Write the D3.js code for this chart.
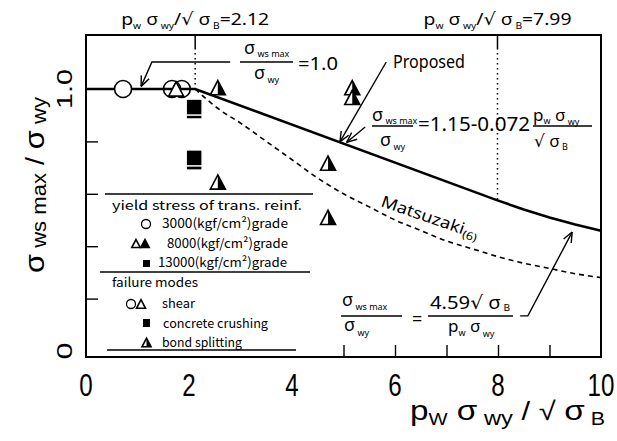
<!DOCTYPE html>
<html>
<head>
<meta charset="utf-8">
<script src="https://cdn.jsdelivr.net/npm/d3@7"></script>
<style>body{margin:0;background:#fff}</style>
</head>
<body>
<div id="chart"></div>
<script>
// values
var proposedX = [0, 2.12, 7.99, 8.5, 9, 9.5, 10];
var proposedY = [1.0, 1.0, 0.575, 0.54, 0.51, 0.483, 0.459];
var matsuX = [2.12, 2.6, 3, 3.5, 4, 4.5, 5, 5.5, 6, 6.5, 7, 7.5, 8, 8.5, 9, 9.5, 10];
var matsuY = [1.0, 0.92, 0.87, 0.80, 0.73, 0.66, 0.60, 0.55, 0.50, 0.46, 0.42, 0.39, 0.36, 0.335, 0.315, 0.295, 0.28];
var circleX = [0.72, 1.67, 1.86];
var circleY = [1.0, 1.0, 1.0];
var openTriX = [1.75];
var openTriY = [1.0];
var squareX = [2.1, 2.1, 2.1, 2.1];
var squareY = [0.916, 0.931, 0.721, 0.737];
var halfTriX = [2.56, 2.56, 4.70, 4.70, 5.17, 5.17];
var halfTriY = [1.005, 0.645, 0.717, 0.51, 1.005, 0.968];
var markX = [2.12, 7.99];
var markY = [1.0, 0.575];
var markLabel = ["2.12", "7.99"];
var xTickLabels = [0, 2, 4, 6, 8, 10];
var xMinorTicks = [1, 2, 3, 4, 5, 6, 7, 8, 9];
var yTicks = [0.2, 0.4, 0.6, 0.8];
var yTickLabels = [0, 1.0];

var SANS = "'Liberation Sans', Arial, sans-serif";
var ANNO = "'Noto Sans', 'DejaVu Sans', sans-serif";
var LEG = "'Noto Sans CJK JP', 'Noto Sans', sans-serif";

var svg = d3.select("#chart").append("svg")
    .attr("width", 617)
    .attr("height", 441);

var x = d3.scaleLinear().domain([0, 10]).range([86, 601]);
var y = d3.scaleLinear().domain([0, 1]).range([351, 89]);
var plotTop = 35, plotBottom = 357;

// text with sub parts: [text, size, shift, style]
function rich(parent, px, py, parts, opt) {
    opt = opt || {};
    var t = parent.append("text")
        .attr("x", px).attr("y", py)
        .attr("font-family", opt.font || ANNO)
        .attr("text-anchor", opt.anchor || "start");
    if (opt.transform) t.attr("transform", opt.transform);
    var prev = 0;
    parts.forEach(function (p) {
        var shift = p[2] || 0;
        var s = t.append("tspan").attr("font-size", p[1]).attr("dy", shift - prev).text(p[0]);
        if (p[3]) s.attr("font-style", p[3]);
        prev = shift;
    });
    if (opt.length) t.attr("textLength", opt.length).attr("lengthAdjust", "spacingAndGlyphs");
    return t;
}

function triangle(g, cx, cy, s, mode) {
    var h = s * 0.95;
    g.append("path")
        .attr("d", "M" + cx + "," + (cy - h) + "L" + (cx + s) + "," + (cy + h) + "L" + (cx - s) + "," + (cy + h) + "Z")
        .attr("fill", mode == "filled" ? "#000" : "#fff")
        .attr("stroke", "#000").attr("stroke-width", 1.6).attr("stroke-linejoin", "miter");
    if (mode == "half") {
        g.append("path")
            .attr("d", "M" + cx + "," + (cy - h) + "L" + (cx + s) + "," + (cy + h) + "L" + cx + "," + (cy + h) + "Z")
            .attr("fill", "#000");
    }
}

function arrow(pts) {
    var p = pts.map(function (d) { return [x(d[0]), y(d[1])]; });
    svg.append("path")
        .attr("d", d3.line()(p))
        .attr("fill", "none").attr("stroke", "#000").attr("stroke-width", 1.4);
    var a = p[p.length - 1], b = p[p.length - 2];
    var ang = Math.atan2(b[1] - a[1], b[0] - a[0]);
    [-0.4, 0.4].forEach(function (da) {
        svg.append("line")
            .attr("x1", a[0]).attr("y1", a[1])
            .attr("x2", a[0] + 11 * Math.cos(ang + da)).attr("y2", a[1] + 11 * Math.sin(ang + da))
            .attr("stroke", "#000").attr("stroke-width", 1.4);
    });
}

// frame
svg.append("rect")
    .attr("x", x(0)).attr("y", plotTop)
    .attr("width", x(10) - x(0)).attr("height", plotBottom - plotTop)
    .attr("fill", "none").attr("stroke", "#000").attr("stroke-width", 2);

// ticks inside the frame
svg.append("g")
    .attr("transform", "translate(0," + plotBottom + ")")
    .call(d3.axisTop(x).tickValues(xMinorTicks).tickSize(12).tickFormat(""))
    .call(function (g) { g.select(".domain").remove(); g.selectAll("line").attr("stroke-width", 1.4); });
svg.append("g")
    .attr("transform", "translate(" + x(0) + ",0)")
    .call(d3.axisRight(y).tickValues(yTicks).tickSize(12).tickFormat(""))
    .call(function (g) { g.select(".domain").remove(); g.selectAll("line").attr("stroke-width", 1.4); });

// tick labels
xTickLabels.forEach(function (v) {
    svg.append("text")
        .attr("transform", "translate(" + x(v) + ",396) scale(0.78,1)")
        .attr("text-anchor", "middle")
        .attr("font-family", SANS).attr("font-size", 31)
        .text(v);
});
yTickLabels.forEach(function (v) {
    svg.append("text")
        .attr("transform", "translate(72," + y(v) + ") rotate(-90)")
        .attr("text-anchor", "middle")
        .attr("font-family", SANS).attr("font-size", 22)
        .attr("textLength", v == 0 ? 17 : 40).attr("lengthAdjust", "spacingAndGlyphs")
        .text(v == 0 ? "0" : d3.format(".1f")(v));
});

// axis titles
rich(svg, 410, 420, [["p", 28], ["W", 17, 5], [" σ", 28, 0], [" wy", 20, 5], [" / √ ", 26, 0], ["σ", 28, 0], [" B", 18, 5]],
    { font: SANS, length: 195 });
rich(svg, 0, 0, [["σ", 28], [" ws max", 20, 2], [" / ", 26, 0], ["σ", 28, 0], [" wy", 20, 2]],
    { font: SANS, anchor: "middle", transform: "translate(44,185) rotate(-90)", length: 176 });

// marker lines at 2.12 and 7.99
markX.forEach(function (v, i) {
    svg.append("line")
        .attr("x1", x(v)).attr("x2", x(v)).attr("y1", plotTop).attr("y2", plotTop + 13)
        .attr("stroke", "#000").attr("stroke-width", 1.5);
    svg.append("line")
        .attr("x1", x(v)).attr("x2", x(v)).attr("y1", plotTop + 13).attr("y2", y(markY[i]))
        .attr("stroke", "#000").attr("stroke-width", 1.5).attr("stroke-dasharray", "1.5,3.5");
    rich(svg, x(v), 25, [["p", 17], ["w", 9, 4], [" σ", 17, 0], [" wy", 9, 4], ["/√", 17, 0], [" σ", 17, 0], [" B", 9, 4], ["=" + markLabel[i], 17, 0]],
        { anchor: "middle", length: 148 });
});

// curves
var line = d3.line()
    .x(function (d) { return x(d[0]); })
    .y(function (d) { return y(d[1]); });
svg.append("path")
    .attr("d", line.curve(d3.curveMonotoneX)(d3.zip(matsuX, matsuY)))
    .attr("fill", "none").attr("stroke", "#000").attr("stroke-width", 1.6)
    .attr("stroke-dasharray", "5,4");
svg.append("path")
    .attr("d", line.curve(d3.curveLinear)(d3.zip(proposedX, proposedY)))
    .attr("fill", "none").attr("stroke", "#000").attr("stroke-width", 2.6);

// data points
svg.append("g").selectAll("circle")
    .data(d3.zip(circleX, circleY))
    .enter().append("circle")
    .attr("cx", function (d) { return x(d[0]); })
    .attr("cy", function (d) { return y(d[1]); })
    .attr("r", 8.5)
    .attr("fill", "none").attr("stroke", "#000").attr("stroke-width", 1.6);
svg.selectAll("circle").filter(function (d, i) { return i == 0; }).attr("fill", "#fff");
d3.zip(openTriX, openTriY).forEach(function (d) { triangle(svg, x(d[0]), y(d[1]), 7.5, "open"); });
svg.append("g").selectAll("rect")
    .data(d3.zip(squareX, squareY))
    .enter().append("rect")
    .attr("x", function (d) { return x(d[0]) - 8; })
    .attr("y", function (d) { return y(d[1]) - 8; })
    .attr("width", 16).attr("height", 16)
    .attr("fill", "#000").attr("stroke", "#fff").attr("stroke-width", 1.5);
d3.zip(halfTriX, halfTriY).forEach(function (d) { triangle(svg, x(d[0]), y(d[1]), 7.5, "half"); });

// legend
var leg = svg.append("g");
leg.append("rect").attr("x", 100).attr("y", 192).attr("width", 200).attr("height", 164).attr("fill", "#fff");
[[194, 105, 313], [272, 100, 310], [350, 107, 296]].forEach(function (l) {
    leg.append("line").attr("x1", l[1]).attr("x2", l[2]).attr("y1", l[0]).attr("y2", l[0])
        .attr("stroke", "#000").attr("stroke-width", 1.5);
});
var legText = [
    ["yield stress of trans. reinf.", 112, 210, 190],
    ["3000(kgf/cm²)grade", 162, 228, 126],
    ["8000(kgf/cm²)grade", 167, 248, 121],
    ["13000(kgf/cm²)grade", 158, 267, 129],
    ["failure modes", 112, 287, 86],
    ["shear", 162, 308, 33],
    ["concrete crushing", 163, 328, 105],
    ["bond splitting", 162, 347, 80]
];
legText.forEach(function (t) {
    leg.append("text").attr("x", t[1]).attr("y", t[2])
        .attr("font-family", LEG).attr("font-size", 13)
        .attr("textLength", t[3]).attr("lengthAdjust", "spacingAndGlyphs")
        .text(t[0]);
});
leg.append("circle").attr("cx", 146).attr("cy", 224).attr("r", 4.5).attr("fill", "#fff").attr("stroke", "#000").attr("stroke-width", 1.3);
triangle(leg, 136, 243.5, 4.2, "open");
triangle(leg, 145, 243.5, 4.2, "filled");
leg.append("rect").attr("x", 143).attr("y", 260).attr("width", 7).attr("height", 7).attr("fill", "#000");
leg.append("circle").attr("cx", 131).attr("cy", 304).attr("r", 4.5).attr("fill", "#fff").attr("stroke", "#000").attr("stroke-width", 1.3);
triangle(leg, 141, 304, 4.5, "open");
leg.append("rect").attr("x", 143).attr("y", 319).attr("width", 7).attr("height", 8).attr("fill", "#000");
triangle(leg, 146.5, 342.5, 4.5, "half");

// annotations
function frac(bx1, bx2, by) {
    svg.append("line").attr("x1", bx1).attr("x2", bx2).attr("y1", by).attr("y2", by)
        .attr("stroke", "#000").attr("stroke-width", 1.3);
}
// sigma_ws max / sigma_wy = 1.0
rich(svg, 244, 54, [["σ", 18], ["  ws max", 9, 3]]);
frac(240, 293, 62);
rich(svg, 254, 79, [["σ", 18], ["  wy", 9, 4]]);
rich(svg, 298, 70, [["=1.0", 18]], { length: 40 });
arrow([[2.80, 1.103], [1.28, 1.103], [1.07, 1.01]]);

// Proposed
rich(svg, 393, 68, [["Proposed", 18]], { length: 72 });
arrow([[5.83, 1.103], [4.93, 0.798]]);
arrow([[5.42, 0.855], [5.06, 0.796]]);
rich(svg, 372, 121, [["σ", 18], ["  ws max", 9, 3]]);
frac(372, 413, 126);
rich(svg, 380, 146, [["σ", 18], ["  wy", 9, 4]]);
rich(svg, 418, 131, [["=1.15-0.072", 20]], { length: 112 });
rich(svg, 533, 121, [["p", 17], ["w", 9, 3], [" σ", 17, 0], [" wy", 9, 4]]);
frac(533, 592, 126);
rich(svg, 534, 147, [["√", 17], [" σ", 17, 0], [" B", 9, 3]]);

// Matsuzaki
rich(svg, 0, 0, [["Matsuzaki", 16], ["(6)", 11, 3]],
    { transform: "translate(380,206) rotate(19)", length: 102 });

// sigma_ws max / sigma_wy = 4.59 sqrt(sigma_B) / (p_w sigma_wy)
rich(svg, 342, 306, [["σ", 18], ["  ws max", 9, 4]]);
frac(341, 402, 316);
rich(svg, 344, 331, [["σ", 18], ["  wy", 9, 5]]);
rich(svg, 412, 325, [["=", 18]]);
rich(svg, 430, 309, [["4.59√", 18], [" σ", 18, 0], [" B", 9, 2]], { length: 80 });
frac(428, 513, 316);
rich(svg, 448, 332, [["p", 17], ["w", 9, 4], [" σ", 17, 0], [" wy", 9, 5]]);
arrow([[8.43, 0.134], [8.58, 0.134], [9.44, 0.454]]);
</script>
</body>
</html>
